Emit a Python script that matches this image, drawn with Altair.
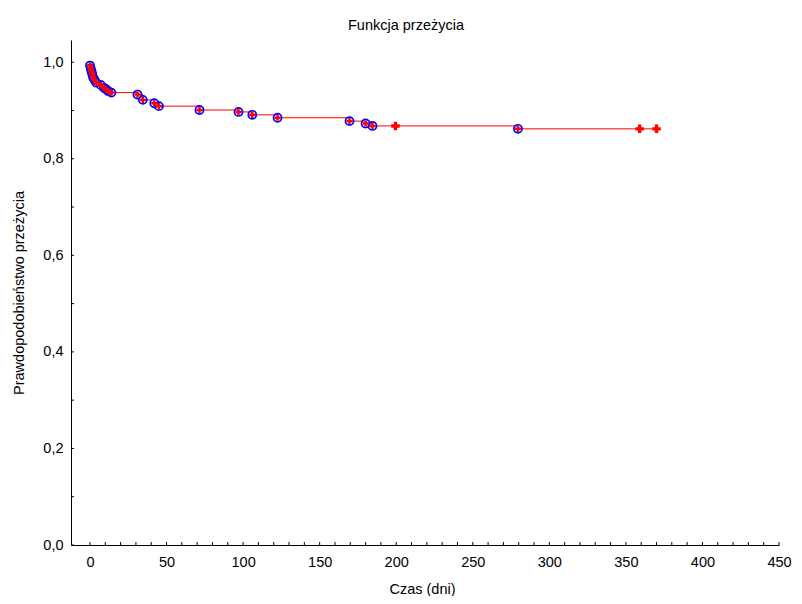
import altair as alt
import pandas as pd

# Kaplan-Meier estimate
times = [0, 0.5, 1, 1.5, 2, 3, 4, 7, 9, 10.5, 12, 14, 31, 34.5, 42, 45,
         71.5, 97, 106, 122.5, 169.5, 180, 184.5, 199.5, 279.5, 359, 370]
surv = [0.993, 0.987, 0.981, 0.975, 0.969, 0.963, 0.958, 0.953, 0.947, 0.944,
        0.940, 0.937, 0.933, 0.922, 0.915, 0.909, 0.901, 0.897, 0.891, 0.885,
        0.878, 0.873, 0.868, 0.868, 0.862, 0.862, 0.862]
event = [1, 1, 1, 1, 1, 1, 1, 1, 1, 1, 1, 1, 1, 1, 1, 1,
         1, 1, 1, 1, 1, 1, 1, 0, 1, 0, 0]

x_labels = [0, 50, 100, 150, 200, 250, 300, 350, 400, 450]
x_ticks = list(range(0, 451, 10))
y_labels = [0.0, 0.2, 0.4, 0.6, 0.8, 1.0]
y_ticks = [i / 10 for i in range(0, 11)]

df = pd.DataFrame({"t": times, "s": surv, "event": event})
W, H = 708, 505
FONT = "Liberation Sans"
FS = 14.5

xs = alt.Scale(domain=[-12.4, 450], nice=False, zero=False)
ys = alt.Scale(domain=[0, 1.046], nice=False)

x_axis = alt.Axis(values=x_labels, ticks=False, grid=False, labelPadding=10,
                  domainColor="#000000", labelFont=FONT, labelFontSize=FS,
                  labelColor="#000000", titleFont=FONT, titleFontSize=FS,
                  titleFontWeight="normal", titleColor="#000000",
                  titlePadding=14, titleX=W / 2 - 3, labelFlush=False)
y_axis = alt.Axis(values=y_labels, ticks=False, grid=False, labelPadding=8,
                  domainColor="#000000", labelFont=FONT, labelFontSize=FS,
                  labelColor="#000000", titleFont=FONT, titleFontSize=FS,
                  titleFontWeight="normal", titleColor="#000000",
                  titlePadding=16, labelFlush=False,
                  labelExpr="replace(format(datum.value, '.1f'), '.', ',')")

base = alt.Chart(df)

line = base.mark_line(interpolate="step-after", color="#ff0000", strokeWidth=1).encode(
    x=alt.X("t:Q", scale=xs, axis=x_axis, title="Czas (dni)"),
    y=alt.Y("s:Q", scale=ys, axis=y_axis, title="Prawdopodobieństwo przeżycia"),
)

circles = base.transform_filter("datum.event == 1").mark_point(
    shape="circle", filled=False, color="#0000ff", strokeWidth=1.7, size=66, opacity=1
).encode(x=alt.X("t:Q", scale=xs), y=alt.Y("s:Q", scale=ys))

plus_ev = base.transform_filter("datum.event == 1").mark_point(
    shape="cross", filled=True, color="#ff0000", size=38, opacity=1, strokeWidth=0
).encode(x=alt.X("t:Q", scale=xs), y=alt.Y("s:Q", scale=ys))

plus_cens = base.transform_filter("datum.event == 0").mark_point(
    shape="cross", filled=True, color="#ff0000", size=72, opacity=1, strokeWidth=0
).encode(x=alt.X("t:Q", scale=xs), y=alt.Y("s:Q", scale=ys))

xt = alt.Chart(pd.DataFrame({"v": x_ticks})).mark_rule(color="#000000", strokeWidth=1).encode(
    x=alt.X("v:Q", scale=xs), y=alt.value(H), y2=alt.value(H - 3)
)
yt = alt.Chart(pd.DataFrame({"v": y_ticks})).mark_rule(color="#000000", strokeWidth=1).encode(
    y=alt.Y("v:Q", scale=ys), x=alt.value(0), x2=alt.value(3)
)

chart = alt.layer(line, circles, plus_ev, plus_cens, xt, yt).properties(
    width=W, height=H,
    background="#ffffff",
    title=alt.TitleParams("Funkcja przeżycia", font=FONT, fontSize=FS,
                          fontWeight="normal", color="#000000",
                          baseline="alphabetic", offset=9, dx=-19, dy=13),
    autosize=alt.AutoSizeParams(type="none"),
    padding={"left": 63, "top": 32, "right": 15, "bottom": 51},
).configure_view(strokeWidth=0, stroke="transparent")

chart.save("out.html", embed_options={"renderer": "svg", "actions": False})
